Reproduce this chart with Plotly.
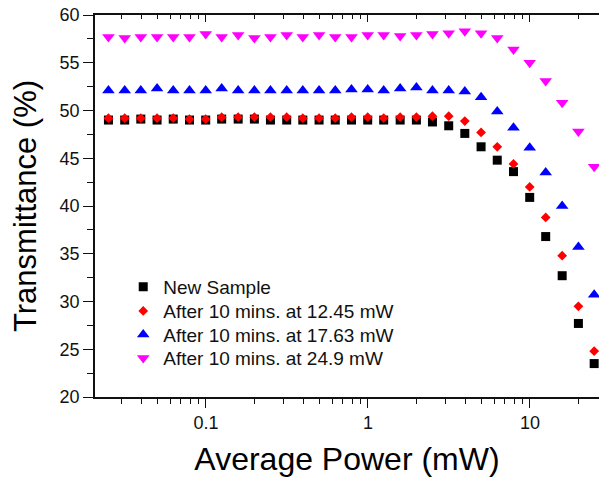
import plotly.graph_objects as go

# Average power (mW), shared by all four measurement series
power_mw = [0.025, 0.0315, 0.0396, 0.0499, 0.0628, 0.0791, 0.0996, 0.125, 0.158, 0.199,
            0.25, 0.315, 0.396, 0.499, 0.628, 0.791, 0.996, 1.25, 1.58, 1.99,
            2.5, 3.15, 3.96, 4.99, 6.28, 7.91, 9.96, 12.5, 15.8, 19.9, 24.9]

# Transmittance (%) for each sample condition
new_sample = [49.0, 49.0, 49.1, 49.0, 49.1, 49.0, 49.0, 49.1, 49.1, 49.1,
              49.0, 49.0, 49.0, 49.0, 49.0, 49.0, 49.0, 49.0, 49.0, 49.0,
              48.8, 48.4, 47.6, 46.2, 44.8, 43.6, 40.9, 36.8, 32.7, 27.7, 23.5]
after_12_45 = [49.2, 49.2, 49.2, 49.2, 49.2, 49.1, 49.1, 49.3, 49.3, 49.3,
               49.3, 49.3, 49.2, 49.2, 49.2, 49.3, 49.3, 49.2, 49.3, 49.3,
               49.4, 49.4, 48.9, 47.7, 46.2, 44.4, 42.0, 38.8, 34.8, 29.5, 24.8]
after_17_63 = [52.1, 52.1, 52.1, 52.3, 52.1, 52.1, 52.1, 52.3, 52.1, 52.1,
               52.1, 52.1, 52.1, 52.1, 52.1, 52.2, 52.2, 52.1, 52.3, 52.4,
               52.1, 52.1, 52.0, 51.4, 49.9, 48.2, 46.1, 43.5, 40.0, 35.7, 30.7]
after_24_9 = [57.7, 57.6, 57.7, 57.7, 57.7, 57.7, 58.0, 57.7, 57.9, 57.6,
              57.7, 57.9, 57.7, 57.9, 57.7, 57.7, 57.9, 57.9, 57.8, 57.9,
              58.0, 58.1, 58.3, 58.1, 57.6, 56.4, 55.0, 53.1, 50.8, 47.8, 44.1]

series_names = ["New Sample", "After 10 mins. at 12.45 mW",
                "After 10 mins. at 17.63 mW", "After 10 mins. at 24.9 mW"]
series_values = [new_sample, after_12_45, after_17_63, after_24_9]
series_colors = ["#000000", "#ff0000", "#0000ff", "#ff00ff"]
series_symbols = ["square", "diamond", "triangle-up", "triangle-down"]
series_sizes = [9, 7.5, 11, 11]

FONT = "Liberation Sans, Arial, sans-serif"
x_range = [-1.685, 1.426]

# one legend box per series so the rows can be spaced tightly
legend_ids = ["legend", "legend2", "legend3", "legend4"]
legend_rows_y = [0.288, 0.225, 0.163, 0.102]

fig = go.Figure()
for name, vals, col, sym, sz, lid in zip(series_names, series_values, series_colors,
                                         series_symbols, series_sizes, legend_ids):
    fig.add_trace(go.Scatter(
        x=power_mw, y=vals, name=name, mode="markers", legend=lid,
        marker=dict(symbol=sym, size=sz, color=col, line=dict(width=0)),
    ))

# empty trace so the top (mirror) axis gets drawn
fig.add_trace(go.Scatter(x=[], y=[], xaxis="x2", showlegend=False, hoverinfo="skip"))

legend_style = dict(
    x=0.056, xanchor="left", yanchor="middle",
    bgcolor="rgba(0,0,0,0)", borderwidth=0,
    font=dict(family=FONT, size=19, color="#111111"),
    itemwidth=30,
)
legends = {lid: dict(legend_style, y=ly) for lid, ly in zip(legend_ids, legend_rows_y)}

fig.update_layout(
    width=599, height=477,
    margin=dict(l=95, r=0, t=15, b=80),
    paper_bgcolor="white", plot_bgcolor="white",
    font=dict(family=FONT, color="#000000"),
    showlegend=True,
    **legends,
    xaxis=dict(
        type="log", range=x_range,
        showline=True, linecolor="#111111", linewidth=1.6,
        ticks="outside", ticklen=9, tickwidth=1.3, tickcolor="#111111",
        tickvals=[0.1, 1, 10], ticktext=["0.1", "1", "10"],
        tickfont=dict(family=FONT, size=18, color="#111111"),
        minor=dict(ticks="outside", ticklen=5, tickwidth=1, tickcolor="#111111", dtick="D1"),
        showgrid=False, zeroline=False,
        title=dict(text="Average Power (mW)", font=dict(family=FONT, size=32, color="#000000"),
                   standoff=15),
    ),
    xaxis2=dict(
        type="log", range=x_range, overlaying="x", side="top", anchor="y",
        showline=True, linecolor="#111111", linewidth=1.6,
        ticks="inside", ticklen=7, tickwidth=1.3, tickcolor="#111111",
        tickvals=[0.1, 1, 10], showticklabels=False,
        minor=dict(ticks="inside", ticklen=4, tickwidth=1, tickcolor="#111111", dtick="D1"),
        showgrid=False, zeroline=False,
    ),
    yaxis=dict(
        range=[20, 60], dtick=5, tick0=20,
        showline=True, linecolor="#111111", linewidth=1.6,
        ticks="outside", ticklen=10, tickwidth=1.3, tickcolor="#111111",
        tickfont=dict(family=FONT, size=18, color="#111111"),
        minor=dict(ticks="outside", ticklen=6, tickwidth=1, tickcolor="#111111", dtick=2.5),
        showgrid=False, zeroline=False,
        title=dict(text="Transmittance (%)", font=dict(family=FONT, size=31, color="#000000"),
                   standoff=14),
    ),
)

fig.write_html("out.html")
